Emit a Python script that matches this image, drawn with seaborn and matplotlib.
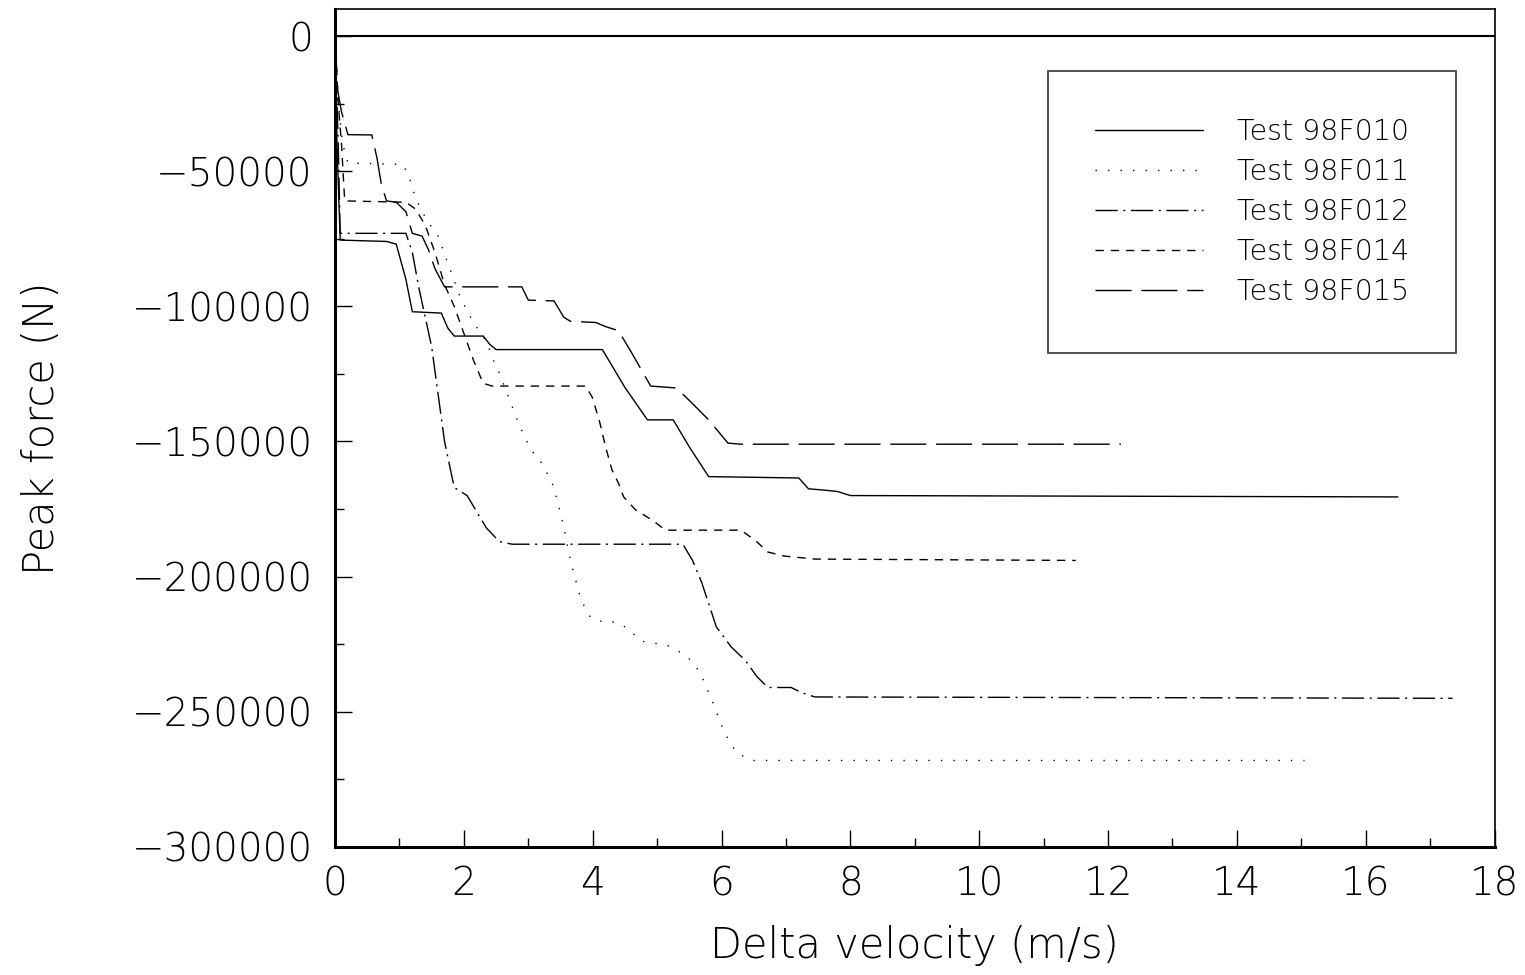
import numpy as np
import pandas as pd
import seaborn as sns
import matplotlib.pyplot as plt
from matplotlib.ticker import MultipleLocator

# values (delta velocity m/s, peak force N)
tests = ["Test 98F010", "Test 98F011", "Test 98F012", "Test 98F014", "Test 98F015"]

dv_010 = [0, 0.03, 0.08, 0.8, 0.95, 1.1, 1.2, 1.65, 1.75, 1.85, 2.3, 2.4, 2.5,
          4.15, 4.5, 4.85, 5.25, 5.5, 5.8, 7.2, 7.35, 7.6, 7.8, 8.0, 16.5]
f_010 = [0, -40000, -75500, -76000, -77000, -90000, -102000, -102500, -108000,
         -111000, -111000, -114000, -116000, -116000, -130000, -142000, -142000,
         -152000, -163000, -163500, -167500, -168000, -168500, -170000, -170500]

dv_011 = [0, 0.05, 0.12, 0.2, 1.05, 1.15, 1.25, 1.42, 1.6, 1.75, 1.95, 2.15, 2.35,
          2.47, 2.55, 2.7, 2.78, 2.86, 2.94, 3.04, 3.21, 3.32, 3.4, 3.45, 3.5, 3.55,
          3.63, 3.68, 3.79, 3.86, 3.97, 4.17, 4.37, 4.56, 4.74, 4.95, 5.15, 5.36,
          5.53, 5.67, 5.85, 6.0, 6.1, 6.23, 6.46, 15.05]
f_011 = [0, -25000, -40000, -47000, -47500, -52000, -60000, -68000, -74000, -84000,
         -97000, -106000, -113000, -120600, -124700, -134000, -139000, -144000,
         -148000, -153000, -158000, -163000, -167000, -172000, -176500, -181600,
         -191300, -196400, -206000, -210500, -215300, -216800, -216800, -219400,
         -223800, -224600, -225300, -228000, -231000, -235600, -245600, -255000,
         -260000, -265000, -268000, -268000]

dv_012 = [0, 0.05, 0.08, 1.1, 1.2, 1.3, 1.5, 1.7, 1.85, 2.05, 2.35, 2.55, 2.75,
          5.4, 5.55, 5.69, 5.92, 6.15, 6.37, 6.55, 6.72, 7.08, 7.25, 7.45, 17.35]
f_012 = [0, -40000, -73000, -73000, -80000, -93000, -115000, -150000, -167000,
         -170000, -182000, -187000, -188000, -188000, -194000, -202000, -218600,
         -226000, -231000, -237000, -241000, -241000, -243000, -244500, -245000]

dv_014 = [0, 0.05, 0.1, 0.15, 1.1, 1.25, 1.4, 1.55, 1.7, 1.85, 2.0, 2.15, 2.3, 2.44,
          3.89, 3.99, 4.1, 4.2, 4.3, 4.4, 4.48, 4.67, 4.92, 5.13, 6.3, 6.52, 6.72,
          6.98, 7.45, 11.5]
f_014 = [0, -25000, -40000, -61000, -61500, -64000, -70000, -80000, -92000,
         -100000, -110000, -120000, -128500, -129500, -129500, -133500, -142000,
         -152000, -160600, -165400, -170500, -175400, -179000, -182800, -182800,
         -186500, -190900, -192400, -193500, -194000]

dv_015 = [0, 0.04, 0.1, 0.2, 0.57, 0.65, 0.72, 0.8, 0.95, 1.1, 1.2, 1.35, 1.45, 1.55,
          1.7, 2.9, 3.0, 3.4, 3.55, 3.65, 4.05, 4.2, 4.4, 4.6, 4.9, 5.3, 5.55, 5.8,
          6.1, 6.3, 12.2]
f_015 = [0, -20000, -28000, -36500, -36600, -45000, -55000, -61000, -61500, -65000,
         -73000, -74000, -79000, -86000, -92800, -92800, -97700, -98000, -104000,
         -105500, -106000, -107500, -109000, -117000, -129500, -130200, -136000,
         -142000, -150600, -151000, -151000]

dv = [dv_010, dv_011, dv_012, dv_014, dv_015]
force = [f_010, f_011, f_012, f_014, f_015]

frames = []
for name, x, y in zip(tests, dv, force):
    frames.append(pd.DataFrame({"dv": x, "force": y, "test": name}))
df = pd.concat(frames, ignore_index=True)

sns.set_style("ticks")
plt.rcParams["font.family"] = ["DejaVu Sans"]
plt.rcParams["font.weight"] = "light"
plt.rcParams["axes.labelweight"] = "light"
plt.rcParams["xtick.direction"] = "in"
plt.rcParams["ytick.direction"] = "in"
for key in ["text.color", "axes.labelcolor", "xtick.color", "ytick.color", "axes.edgecolor"]:
    plt.rcParams[key] = "black"

fig = plt.figure(figsize=(15.25, 9.75), dpi=100)
ax = fig.add_axes([0.2197, 0.1313, 0.7603, 0.8595])

dash_styles = {
    "Test 98F010": "",
    "Test 98F011": (1, 8),
    "Test 98F012": (16, 4, 1.5, 4),
    "Test 98F014": (6, 5),
    "Test 98F015": (26, 7),
}
sns.lineplot(data=df, x="dv", y="force", style="test", dashes=dash_styles,
             color="black", linewidth=1.0, estimator=None, sort=False, ax=ax)

ax.axhline(0, color="black", linewidth=1.5)

ax.set_xlim(0, 18)
ax.set_ylim(-300000, 10000)
ax.xaxis.set_major_locator(MultipleLocator(2))
ax.xaxis.set_minor_locator(MultipleLocator(1))
ax.yaxis.set_major_locator(MultipleLocator(50000))
ax.yaxis.set_minor_locator(MultipleLocator(25000))
ax.tick_params(which="major", length=12, width=1, labelsize=28, color="black")
ax.tick_params(which="minor", length=6.5, width=1, color="black")
ax.tick_params(axis="x", pad=13)
ax.tick_params(axis="y", pad=16)
ax.set_yticks(np.arange(-300000, 1, 50000))
ax.set_yticklabels(["\u2212300000", "\u2212250000", "\u2212200000", "\u2212150000",
                    "\u2212100000", "\u221250000", "0"])

for side in ["left", "bottom"]:
    ax.spines[side].set_linewidth(2.2)
for side in ["top", "right"]:
    ax.spines[side].set_linewidth(1.2)
    ax.spines[side].set_visible(True)

ax.set_xlabel("Delta velocity (m/s)", fontsize=30, fontweight="light", labelpad=16)
ax.set_ylabel("Peak force (N)", fontsize=30, fontweight="light", labelpad=50)

handles, labels = ax.get_legend_handles_labels()
leg = ax.legend(handles, labels, loc="upper right", bbox_to_anchor=(0.967, 0.926),
                fontsize=20.5, frameon=True, fancybox=False, edgecolor="black",
                handlelength=3.8, handletextpad=1.2, labelspacing=0.42,
                borderpad=1.65, borderaxespad=0)
leg.get_frame().set_linewidth(1.2)
for line in leg.get_lines():
    line.set_linewidth(1.0)

fig.savefig("out.png", dpi=100, facecolor="white")
